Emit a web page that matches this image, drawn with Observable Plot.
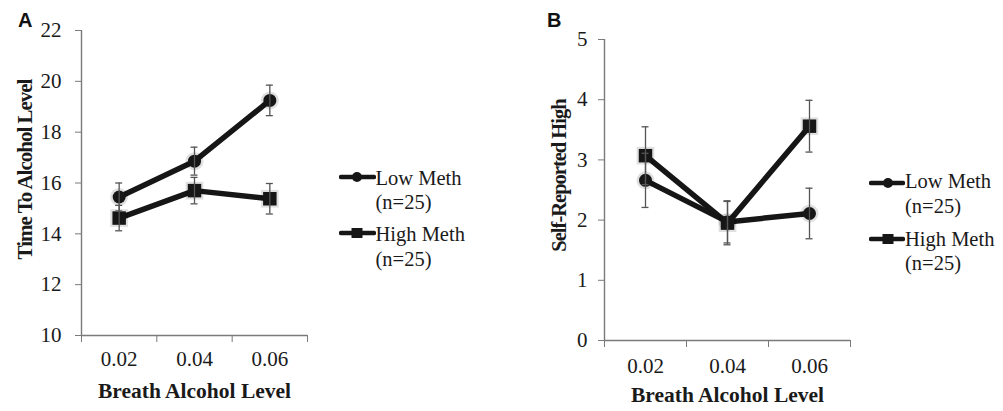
<!DOCTYPE html>
<html><head><meta charset="utf-8">
<script src="https://cdn.jsdelivr.net/npm/d3@7"></script>
<script src="https://cdn.jsdelivr.net/npm/@observablehq/plot@0.6"></script>
<style>
html,body{margin:0;padding:0;background:#fff;}
body{width:1003px;height:411px;overflow:hidden;position:relative;font-family:"Liberation Serif",serif;}
.panel-letter{font-family:"Liberation Sans",Arial,sans-serif;font-weight:bold;font-size:20px;line-height:20px;color:#111;}
.legend-text{font-family:"Liberation Serif",serif;font-size:20.5px;line-height:24.7px;color:#1a1a1a;white-space:nowrap;}
</style></head><body>
<script>
// ---- data ----
const levels = [0.02, 0.04, 0.06];
const levelLabels = ["0.02", "0.04", "0.06"];
const groupNames = ["Low Meth", "High Meth"];
const groupN = ["(n=25)", "(n=25)"];
const xTitle = "Breath Alcohol Level";

// Panel A: Time To Alcohol Level
const titleA = "Time To Alcohol Level";
const timeLow = [15.45, 16.86, 19.25];
const timeLowErr = [0.55, 0.55, 0.6];
const timeHigh = [14.62, 15.7, 15.38];
const timeHighErr = [0.5, 0.52, 0.6];
const yTicksA = [10, 12, 14, 16, 18, 20, 22];

// Panel B: Self-Reported High
const titleB = "Self-Reported High";
const highLow = [2.66, 1.97, 2.11];
const highLowErr = [0.45, 0.35, 0.42];
const highHigh = [3.07, 1.95, 3.56];
const highHighErr = [0.48, 0.36, 0.43];
const yTicksB = [0, 1, 2, 3, 4, 5];

// ---- helpers ----
function rows(lowV, lowE, highV, highE) {
  return [
    ...levels.map((x, i) => ({x, group: "Low", y: lowV[i], e: lowE[i]})),
    ...levels.map((x, i) => ({x, group: "High", y: highV[i], e: highE[i]}))
  ];
}
const step = levels[1] - levels[0];
const bounds = [...levels.map(d => d - step / 2), levels[levels.length - 1] + step / 2];
const labelOf = d => { const i = levels.indexOf(d); return i >= 0 ? levelLabels[i] : d3.format(".2f")(d); };
const SERIF = '"Liberation Serif", serif';
const INK = "#161616";
const AXIS = "#7a7a7a";
const BAR = "#555";

function panel(o) {
  const data = o.data;
  const svg = Plot.plot({
    width: o.width, height: o.height,
    marginTop: o.mt, marginBottom: o.mb, marginLeft: o.ml, marginRight: o.mr,
    style: {fontFamily: SERIF, fontSize: "21px", color: "#1a1a1a", background: "transparent", overflow: "visible"},
    x: {type: "linear", domain: [bounds[0], bounds[bounds.length - 1]]},
    y: {domain: [o.yTicks[0], o.yTicks[o.yTicks.length - 1]]},
    marks: [
      Plot.axisY({ticks: o.yTicks, tickSize: 6, tickPadding: o.yPad, tickFormat: d => String(d), label: null, stroke: AXIS, fill: "#1a1a1a", fontFamily: SERIF, fontSize: 21}),
      Plot.axisX({ticks: bounds, tickSize: 7, tickFormat: () => "", label: null, stroke: AXIS}),
      Plot.axisX({ticks: levels, tickSize: 0, tickPadding: o.xPad, tickFormat: labelOf, label: null, fill: "#1a1a1a", fontFamily: SERIF, fontSize: 21}),
      Plot.ruleX([bounds[0]], {stroke: AXIS, strokeWidth: 1.4}),
      Plot.ruleY([o.yTicks[0]], {stroke: AXIS, strokeWidth: 1.4}),
      Plot.line(data, {x: "x", y: "y", z: "group", stroke: INK, strokeWidth: 5.5, strokeLinejoin: "round"}),
      Plot.dot(data.filter(d => d.group === "Low"), {x: "x", y: "y", r: 9, fill: "#000", fillOpacity: 0.12, symbol: "circle"}),
      Plot.dot(data.filter(d => d.group === "High"), {x: "x", y: "y", r: 10, fill: "#000", fillOpacity: 0.12, symbol: "square"}),
      Plot.dot(data.filter(d => d.group === "Low"), {x: "x", y: "y", r: 6.5, fill: INK, symbol: "circle"}),
      Plot.dot(data.filter(d => d.group === "High"), {x: "x", y: "y", r: 7.6, fill: INK, symbol: "square"}),
      Plot.ruleX(data, {x: "x", y1: d => d.y - d.e, y2: d => d.y + d.e, stroke: BAR, strokeWidth: 1.3}),
      Plot.ruleY(data, {y: d => d.y + d.e, x1: "x", x2: "x", insetLeft: -3.5, insetRight: -3.5, stroke: BAR, strokeWidth: 1.3}),
      Plot.ruleY(data, {y: d => d.y - d.e, x1: "x", x2: "x", insetLeft: -3.5, insetRight: -3.5, stroke: BAR, strokeWidth: 1.3}),
      Plot.text([o.yLabel], {frameAnchor: "left", textAnchor: "middle", lineAnchor: "middle", rotate: -90, dx: o.yLabelDx, dy: o.yLabelDy, fontWeight: "bold", fontSize: o.yLabelSize, fontFamily: SERIF, fill: "#1a1a1a", text: d => d}),
      Plot.text([xTitle], {frameAnchor: "bottom", textAnchor: "middle", lineAnchor: "middle", dy: o.xLabelDy, fontWeight: "bold", fontSize: 21.5, fontFamily: SERIF, fill: "#1a1a1a", text: d => d})
    ]
  });
  // tighten the rotated axis title a little (the original face is narrower)
  d3.select(svg).selectAll("text").filter(function () { return this.textContent === o.yLabel; })
    .attr("letter-spacing", o.yLabelSpacing + "px");
  return svg;
}

function place(el, left, top) {
  el.style.position = "absolute"; el.style.left = left + "px"; el.style.top = top + "px";
  document.body.appendChild(el);
}

function legend(o) {
  groupNames.forEach((name, i) => {
    const b = o.baselines[i];
    const sy = o.swatchY[i];
    const ns = "http://www.w3.org/2000/svg";
    const svg = document.createElementNS(ns, "svg");
    svg.setAttribute("width", o.swatchX2 - o.swatchX1 + 4);
    svg.setAttribute("height", 20);
    const line = document.createElementNS(ns, "line");
    line.setAttribute("x1", 2); line.setAttribute("x2", o.swatchX2 - o.swatchX1 + 2);
    line.setAttribute("y1", 10); line.setAttribute("y2", 10);
    line.setAttribute("stroke", INK); line.setAttribute("stroke-width", 4.5); line.setAttribute("stroke-linecap", "round");
    svg.appendChild(line);
    const mx = o.markX - o.swatchX1 + 2;
    let m;
    if (i === 0) {
      m = document.createElementNS(ns, "circle");
      m.setAttribute("cx", mx); m.setAttribute("cy", 10); m.setAttribute("r", 5);
    } else {
      m = document.createElementNS(ns, "rect");
      m.setAttribute("x", mx - 5.5); m.setAttribute("y", 5); m.setAttribute("width", 11); m.setAttribute("height", 10);
    }
    m.setAttribute("fill", INK);
    svg.appendChild(m);
    place(svg, o.swatchX1 - 2, sy - 10);
    const div = document.createElement("div");
    div.className = "legend-text";
    div.innerHTML = name + "<br>" + groupN[i];
    place(div, o.textX, b - 19.3);
  });
}

// ---- Panel A ----
const plotA = panel({
  data: rows(timeLow, timeLowErr, timeHigh, timeHighErr),
  yTicks: yTicksA, yLabel: titleA,
  width: 330, height: 411, mt: 30, mb: 76, ml: 81, mr: 23,
  yPad: 14, xPad: 16, yLabelDx: -56.5, yLabelDy: -13.5, yLabelSize: 21, yLabelSpacing: -1, xLabelDy: 55.5
});
place(plotA, 0, 0);

// ---- Panel B ----
const plotB = panel({
  data: rows(highLow, highLowErr, highHigh, highHighErr),
  yTicks: yTicksB, yLabel: titleB,
  width: 340, height: 411, mt: 39, mb: 71, ml: 84, mr: 10,
  yPad: 11, xPad: 18, yLabelDx: -45.5, yLabelDy: -14.5, yLabelSize: 20.5, yLabelSpacing: -1, xLabelDy: 55
});
place(plotB, 520, 0);

// ---- legends ----
legend({swatchX1: 341, swatchX2: 374, markX: 357, textX: 375.5, baselines: [185, 241.7], swatchY: [176.5, 233]});
legend({swatchX1: 871, swatchX2: 903, markX: 888, textX: 905, baselines: [188.5, 246], swatchY: [182.5, 239]});

// ---- panel letters ----
const la = document.createElement("div"); la.className = "panel-letter"; la.textContent = "A"; place(la, 18, 10);
const lb = document.createElement("div"); lb.className = "panel-letter"; lb.textContent = "B"; place(lb, 547, 10);
</script>
</body></html>
